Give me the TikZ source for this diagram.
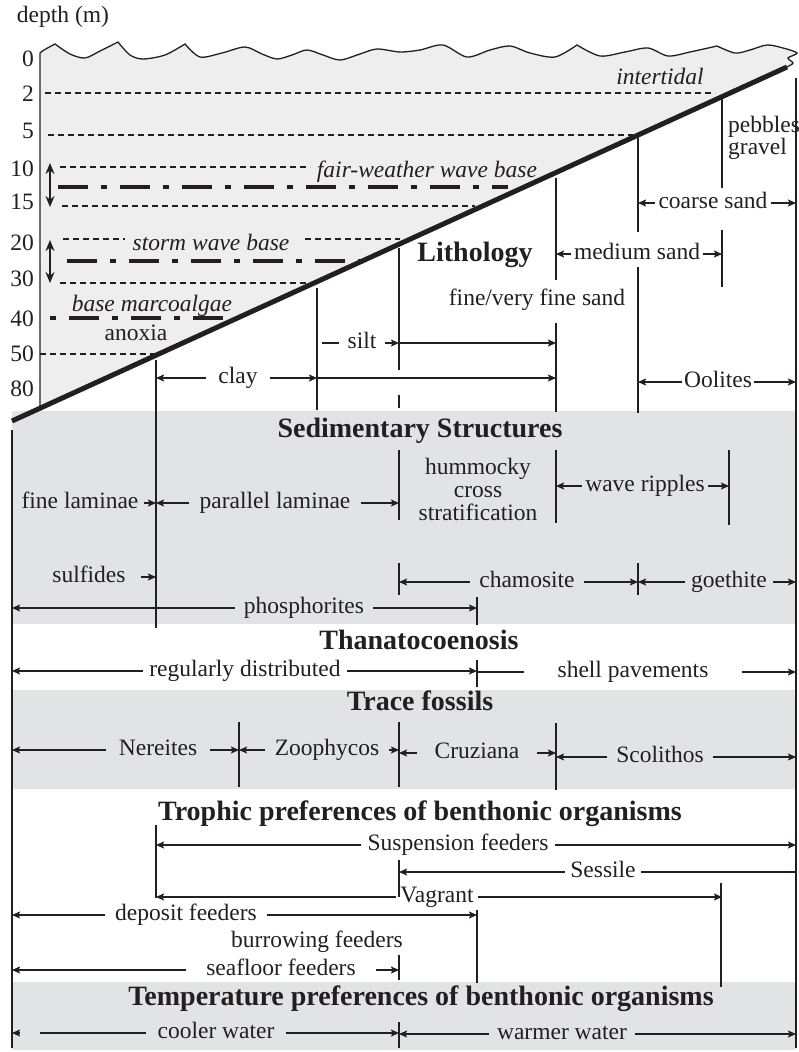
\documentclass[tikz,border=0pt]{standalone}
\usepackage{fontspec}
\setmainfont{Liberation Serif}
\usetikzlibrary{arrows.meta}
\definecolor{Sea}{HTML}{EEEEEE}
\definecolor{Band}{HTML}{E2E3E5}
\definecolor{Ink}{HTML}{231F20}

\begin{document}
\begin{tikzpicture}[x=1pt,y=-1pt,font=\fontsize{23.5}{26}\selectfont,text=Ink,lbl/.style={inner ysep=0pt,inner xsep=#1,text height=16pt,text depth=5.4pt},lbl/.default=4pt,hd/.style={font=\fontsize{28}{32}\selectfont\bfseries,text height=19pt,text depth=0pt,inner sep=0pt},dep/.style={anchor=east,text height=16pt,text depth=0pt,inner sep=0pt},zone/.style={font=\fontsize{23.5}{26}\selectfont\itshape,text height=16pt,text depth=5.4pt,inner sep=0pt},rng/.style={-{Stealth[length=8pt,width=7pt,inset=1.5pt]},line width=1.4pt,draw=Ink},ln/.style={line width=1.4pt,draw=Ink},vbar/.style={line width=1.9pt,draw=Ink},lvl/.style={line width=1.1pt,dash pattern=on 6pt off 4pt,draw=Ink},wbase/.style={line width=4.5pt,dash pattern=on 30pt off 13pt on 6pt off 13pt,draw=Ink},reach/.style={{Stealth[length=11pt,width=9pt]}-{Stealth[length=11pt,width=9pt]},line width=1.7pt,draw=Ink}]
\useasboundingbox (0,0) rectangle (798,1052);
\coordinate (wl) at (12,0);\coordinate (wr) at (796,0);\coordinate (cw) at (40,0);\coordinate (xa) at (156,0);\coordinate (xb) at (317,0);\coordinate (xc) at (399,0);\coordinate (xd) at (556,0);\coordinate (xe) at (638,0);\coordinate (xf) at (722,0);\coordinate (xg) at (477,0);\coordinate (xh) at (239,0);\coordinate (xi) at (729,0);\coordinate (siltl) at (322,343);
\fill[Band] (12,411) rectangle (796,624);\fill[Band] (12,690) rectangle (796,789);\fill[Band] (12,982) rectangle (796,1050);
\filldraw[fill=Sea,draw=Ink,line width=1.3pt] (40,408) -- (40,53) -- plot[smooth] coordinates {(40,53) (44,50) (55,44)} -- plot[smooth] coordinates {(55,44) (70,54) (85,58) (100,51) (118,42)} -- plot[smooth] coordinates {(118,42) (130,55) (143,59) (165,55) (185,44)} -- plot[smooth] coordinates {(185,44) (200,57) (222,53) (245,47) (262,54) (277,59) (292,55) (307,50) (323,55) (340,60) (360,54) (377,49) (400,52) (420,50) (443,45) (467,57) (490,50) (510,46) (530,53) (555,57) (577,45)} -- plot[smooth] coordinates {(577,45) (600,56) (625,52) (648,48) (668,56) (690,52) (717,46)} -- plot[smooth] coordinates {(717,46) (735,53) (750,50) (767,45) (783,48) (797,53) (788,58) (793,63) (787,67)} -- cycle;
\node[lbl] (dm) at (63,17) {depth (m)};
\node[dep] (d0) at (34,58) {0};\node[dep] (d2) at (34,93) {2};\node[dep] (d5) at (34,130) {5};\node[dep] (d10) at (34,168) {10};\node[dep] (d15) at (34,201) {15};\node[dep] (d20) at (34,242) {20};\node[dep] (d30) at (34,278) {30};\node[dep] (d40) at (34,318) {40};\node[dep] (d50) at (34,353) {50};\node[dep] (d80) at (34,388) {80};
\draw[lvl] (45,93) -- (715,93);\draw[lvl] (48,135) -- (633,135);\draw[lvl] (60,167) -- (310,167);\draw[lvl] (62,206) -- (475,206);\draw[lvl] (63,239) -- (125,239) (305,239) -- (400,239);\draw[lvl] (60,283) -- (310,283);\draw[lvl] (40,354) -- (155,354);
\draw[wbase] (58,187) -- (508,187);\draw[wbase] (67,261) -- (363,261);\draw[wbase,dash phase=43pt] (50,318) -- (232,318);
\draw[reach] (50,163) -- (50,207);\draw[reach] (50,240) -- (50,283);
\node[zone] (tid) at (660,79) {intertidal};
\node[zone] (fwb) at (427,172) {fair-weather wave base};
\node[zone] (swb) at (211,245) {storm wave base};
\node[zone] (bma) at (152,306) {base marcoalgae};
\node[lbl] (anx) at (136,335) {anoxia};
\draw[Ink,line width=5pt] (12,421) -- (787,67);
\draw[vbar] (156,360) -- (156,628) (156,825) -- (156,898);
\draw[vbar] (317,288) -- (317,410);
\draw[vbar] (399,248) -- (399,370) (399,395) -- (399,408) (399,450) -- (399,520) (399,563) -- (399,595) (399,722) -- (399,787) (399,860) -- (399,897) (399,955) -- (399,980) (399,1022) -- (399,1048);
\draw[vbar] (556,178) -- (556,280) (556,323) -- (556,412) (556,450) -- (556,523) (556,723) -- (556,790);
\draw[vbar] (638,135) -- (638,232) (638,267) -- (638,413) (638,563) -- (638,595);
\draw[vbar] (722,98) -- (722,188) (722,230) -- (722,287) (721,883) -- (721,987);
\draw[vbar] (729,450) -- (729,525);
\draw[vbar] (477,597) -- (477,625) (477,660) -- (477,687) (477,910) -- (477,983);
\draw[vbar] (239,722) -- (239,787);
\draw[vbar] (12,430) -- (12,1048);\draw[vbar] (796,78) -- (796,1048);
\node[hd] (lith) at (475,252) {Lithology};
\node[inner sep=0pt,anchor=west,align=left,font=\fontsize{23.5}{22}\selectfont] (peb) at (728,138) {pebbles\\gravel};
\node[lbl] (fvf) at (537,300) {fine/very fine sand};
\node[lbl=3pt] (cs) at (713,203) {coarse sand};\draw[rng] (cs) -- (cs -| xe);\draw[rng] (cs) -- (cs -| wr);
\node[lbl=3pt] (ms) at (637,254) {medium sand};\draw[rng] (ms) -- (ms -| xd);\draw[rng] (ms) -- (ms -| xf);
\node[lbl=8pt] (silt) at (362,343) {silt};\draw[ln] (silt) -- (siltl);\draw[rng] (silt) -- (silt -| xc);\draw[rng] (silt -| xc) -- (silt -| xd);
\node[lbl=12pt] (clay) at (238,378) {clay};\draw[rng] (clay) -- (clay -| xa);\draw[rng] (clay) -- (clay -| xb);\draw[rng] (clay -| xb) -- (clay -| xd);
\node[lbl=2pt] (ool) at (718,382) {Oolites};\draw[rng] (ool) -- (ool -| xe);\draw[rng] (ool) -- (ool -| wr);
\node[hd] (sed) at (420,428) {Sedimentary Structures};
\node[lbl=5pt] (flam) at (80,503) {fine laminae};\draw[rng] (flam) -- (flam -| xa);
\node[lbl=10pt] (plam) at (275,503) {parallel laminae};\draw[rng] (plam) -- (plam -| xa);\draw[rng] (plam) -- (plam -| xc);
\node[inner sep=0pt,align=center,font=\fontsize{23.5}{23}\selectfont] (hcs) at (478,489) {hummocky\\cross\\stratification};
\node[lbl=3pt] (wrip) at (645,486) {wave ripples};\draw[rng] (wrip) -- (wrip -| xd);\draw[rng] (wrip) -- (wrip -| xi);
\node[lbl=15pt] (sulf) at (89,577) {sulfides};\draw[rng] (sulf) -- (sulf -| xa);
\node[lbl=9pt] (phos) at (304,608) {phosphorites};\draw[rng] (phos) -- (phos -| wl);\draw[rng] (phos) -- (phos -| xg);
\node[lbl=9pt] (cham) at (527,582) {chamosite};\draw[rng] (cham) -- (cham -| xc);\draw[rng] (cham) -- (cham -| xe);
\node[lbl=6pt] (goe) at (729,582) {goethite};\draw[rng] (goe) -- (goe -| xe);\draw[rng] (goe) -- (goe -| wr);
\node[hd] (than) at (419,640) {Thanatocoenosis};
\node[lbl=6pt] (regd) at (245,671) {regularly distributed};\draw[rng] (regd) -- (regd -| wl);\draw[rng] (regd) -- (regd -| xg);
\node[lbl=33pt] (shell) at (633,672) {shell pavements};\draw[ln] (shell) -- (shell -| xg);\draw[rng] (shell) -- (shell -| wr);
\node[hd] (trace) at (420,701) {Trace fossils};
\node[lbl=13pt] (ner) at (158,750) {Nereites};\draw[rng] (ner) -- (ner -| wl);\draw[rng] (ner) -- (ner -| xh);
\node[lbl=10pt] (zoo) at (327,750) {Zoophycos};\draw[rng] (zoo) -- (zoo -| xh);\draw[rng] (zoo) -- (zoo -| xc);
\node[lbl=17pt] (cru) at (477,753) {Cruziana};\draw[rng] (cru) -- (cru -| xc);\draw[rng] (cru) -- (cru -| xd);
\node[lbl=9pt] (sco) at (660,757) {Scolithos};\draw[rng] (sco) -- (sco -| xd);\draw[rng] (sco) -- (sco -| wr);
\node[hd] (troph) at (420,811) {Trophic preferences of benthonic organisms};
\node[lbl=6pt] (susp) at (458,845) {Suspension feeders};\draw[rng] (susp) -- (susp -| xa);\draw[rng] (susp) -- (susp -| wr);
\node[lbl=5pt] (sess) at (603,872) {Sessile};\draw[rng] (sess) -- (sess -| xc);\draw[ln] (sess) -- (sess -| wr);
\node[lbl=4pt] (vag) at (437,897) {Vagrant};\draw[rng] (vag) -- (vag -| xa);\draw[rng] (vag) -- (vag -| xf);
\node[lbl=10pt] (depf) at (186,915) {deposit feeders};\draw[rng] (depf) -- (depf -| wl);\draw[rng] (depf) -- (depf -| xg);
\node[lbl] (burr) at (317,942) {burrowing feeders};
\node[lbl=20pt] (seaf) at (281,970) {seafloor feeders};\draw[rng] (seaf) -- (seaf -| wl);\draw[rng] (seaf) -- (seaf -| xc);
\node[hd] (temp) at (421,996) {Temperature preferences of benthonic organisms};
\node[lbl=11pt] (cool) at (216,1033) {cooler water};\draw[ln] (cool) -- (cool -| cw);\draw[rng,shorten <=20pt] (cool -| cw) -- (cool -| wl);\draw[rng] (cool) -- (cool -| xc);
\node[lbl=8pt] (warm) at (562,1034) {warmer water};\draw[rng] (warm) -- (warm -| xc);\draw[rng] (warm) -- (warm -| wr);
\end{tikzpicture}
\end{document}
